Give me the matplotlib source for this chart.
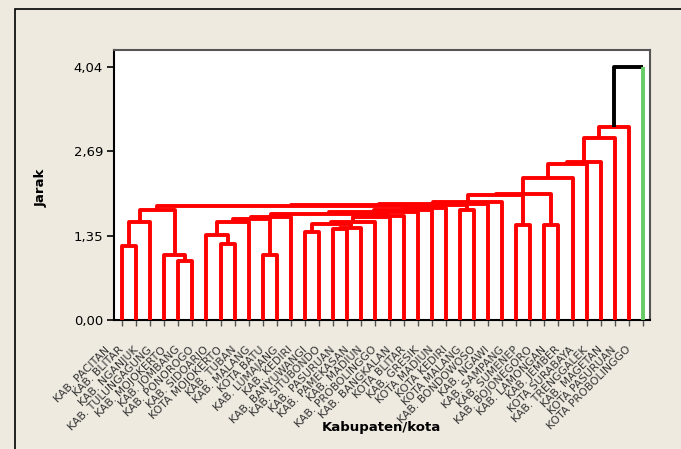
import numpy as np
import matplotlib
matplotlib.use("Agg")
import matplotlib.pyplot as plt
from matplotlib.patches import Rectangle

# leaf names in dendrogram order
labels = [
    "KAB. PACITAN", "KAB. BLITAR", "KAB. NGANJUK", "KAB. TULUNGAGUNG",
    "KAB. MOJOKERTO", "KAB. JOMBANG", "KAB. PONOROGO", "KAB. SIDOARJO",
    "KOTA MOJOKERTO", "KAB. TUBAN", "KAB. MALANG", "KOTA BATU",
    "KAB. LUMAJANG", "KAB. KEDIRI", "KAB. BANYUWANGI", "KAB. SITUBONDO",
    "KAB. PASURUAN", "KAB. PAMEKASAN", "KAB. MADIUN", "KAB. PROBOLINGGO",
    "KAB. BANGKALAN", "KOTA BLITAR", "KAB. GRESIK", "KOTA MADIUN",
    "KOTA KEDIRI", "KOTA MALANG", "KAB. BONDOWOSO", "KAB. NGAWI",
    "KAB. SAMPANG", "KAB. SUMENEP", "KAB. BOJONEGORO", "KAB. LAMONGAN",
    "KAB. JEMBER", "KOTA SURABAYA", "KAB. TRENGGALEK", "KAB. MAGETAN",
    "KOTA PASURUAN", "KOTA PROBOLINGGO",
]

# merge table, hclust style: negative = leaf number, positive = earlier merge row
merge_left = [-5, -4, -11, -1, -8, -7, -14, -16, 8, -29, -31, 7, 4, 12, 6,
              15, 14, 16, 17, 18, 20, 13, -25, 21, 24, 22, 26, 27, 28, 29,
              30, 31, 32, 33, 34, 35, 36]
merge_right = [-6, 1, -12, -2, -9, 5, -15, -17, -18, -30, -32, 9, -3, -19, -10,
               3, -20, -13, -21, 19, -22, 2, -26, -23, -24, 25, 23, -27, -28, 10,
               11, -33, -34, -35, -36, -37, -38]
merge_height = [0.95, 1.04, 1.04, 1.18, 1.22, 1.36, 1.41, 1.45, 1.47, 1.51,
                1.51, 1.53, 1.56, 1.56, 1.57, 1.62, 1.64, 1.65, 1.66, 1.70,
                1.72, 1.76, 1.76, 1.76, 1.79, 1.82, 1.84, 1.86, 1.89, 1.99,
                2.01, 2.27, 2.49, 2.53, 2.90, 3.09, 4.04]

RED = "#FF0000"
BG = "#EEEAE0"

fig = plt.figure(figsize=(6.81, 4.49), dpi=100, facecolor=BG)
ax = fig.add_axes([0.1674, 0.2873, 0.787, 0.6013])
ax.set_facecolor("white")

n = len(labels)
node_x = {}
node_h = {}


def pos(node):
    if node < 0:
        return float(-node), 0.0
    return node_x[node], node_h[node]


for k, (a, b, h) in enumerate(zip(merge_left, merge_right, merge_height), start=1):
    xa, ha = pos(a)
    xb, hb = pos(b)
    last = k == len(merge_height)
    if last:
        ax.plot([xa, xa, xb], [ha, h, h], color="black", lw=2.8,
                solid_capstyle="butt", zorder=3)
        ax.plot([xb, xb], [h, hb], color="#66CC66", lw=2.8,
                solid_capstyle="butt", zorder=3)
    else:
        ax.plot([xa, xa, xb, xb], [ha, h, h, hb], color=RED, lw=2.8,
                solid_capstyle="butt", zorder=3)
    node_x[k] = (xa + xb) / 2
    node_h[k] = h

top = max(merge_height)
ax.set_xlim(0.43, n + 0.5)
ax.set_ylim(0, top * 270 / 253)

yt = np.array([0, top / 3, 2 * top / 3, top])
ax.set_yticks(yt)
ax.set_yticklabels([f"{v:.2f}".replace(".", ",") for v in yt], fontsize=9.5)
ax.tick_params(axis="y", length=5, width=1.2, pad=3, colors="black")

ax.set_xticks(np.arange(1, n + 1))
ax.set_xticklabels([])
ax.tick_params(axis="x", length=4, width=1, color="#555555")

for i, name in enumerate(labels, start=1):
    ax.annotate(name, xy=(i, 0), xycoords="data", xytext=(-14, -28),
                textcoords="offset pixels", rotation=45, rotation_mode="anchor",
                ha="right", va="center", fontsize=7.8, color="#333333")

for side in ["left", "bottom"]:
    ax.spines[side].set_linewidth(1.5)
    ax.spines[side].set_color("black")
for side in ["top", "right"]:
    ax.spines[side].set_linewidth(1.5)
    ax.spines[side].set_color("#555555")

fig.text(41 / 681, 1 - 188 / 449, "Jarak", rotation=90, ha="center",
         va="center", fontsize=9.5, fontweight="bold")
fig.text(381 / 681, 1 - 428 / 449, "Kabupaten/kota", ha="center",
         va="center", fontsize=9.5, fontweight="bold")

# outer panel border
fig.add_artist(Rectangle((15 / 681, -0.1), 1.2, 1 - 9.5 / 449 + 0.1,
                         transform=fig.transFigure, fill=False,
                         edgecolor="black", lw=1.2))

fig.savefig("out.png", dpi=100, facecolor=BG)
